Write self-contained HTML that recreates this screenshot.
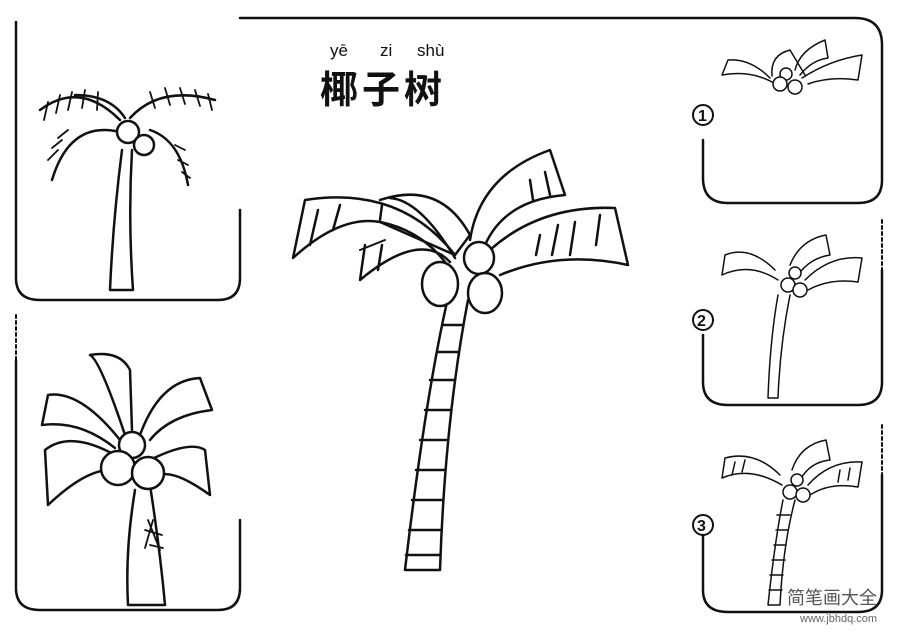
<!DOCTYPE html>
<html><head><meta charset="utf-8"><style>
body{margin:0;background:#fff;width:900px;height:635px;overflow:hidden}
svg{display:block}
text{font-family:"Liberation Sans","Noto Sans CJK SC",sans-serif}
</style></head><body>
<svg width="900" height="635" viewBox="0 0 900 635" fill="none" stroke="#111" stroke-width="2.5" stroke-linejoin="round" stroke-linecap="round">
<!-- frames -->
<path d="M16 22 V278 Q16 300 40 300 H218 Q240 300 240 278 V210"/>
<path d="M240 18 H855 Q882 18 882 45 V180 Q882 203 858 203 H728 Q703 203 703 178 V140"/>
<path d="M882 220 V270" stroke-dasharray="3 3" stroke-width="2"/>
<path d="M882 270 V382 Q882 405 858 405 H728 Q703 405 703 382 V335"/>
<path d="M882 425 V475" stroke-dasharray="3 3" stroke-width="2"/>
<path d="M882 475 V590 Q882 612 858 612 H728 Q703 612 703 590 V535"/>
<path d="M16 315 V360" stroke-dasharray="3 3" stroke-width="2"/>
<path d="M16 360 V588 Q16 610 40 610 H218 Q240 610 240 588 V520"/>
<!-- title -->
<text x="330" y="56" font-size="17" fill="#111" stroke="none">yē</text>
<text x="380" y="56" font-size="17" fill="#111" stroke="none">zi</text>
<text x="417" y="56" font-size="17" fill="#111" stroke="none">shù</text>
<text x="320" y="103" font-size="38" font-weight="bold" fill="#111" stroke="none" letter-spacing="4">椰子树</text>
<!-- step labels -->
<g stroke-width="2"><circle cx="703" cy="115" r="10"/><circle cx="703" cy="320" r="10"/><circle cx="703" cy="525" r="10"/></g>
<text x="698" y="121" font-size="16" font-weight="bold" fill="#111" stroke="none">1</text>
<text x="697" y="326" font-size="16" font-weight="bold" fill="#111" stroke="none">2</text>
<text x="697" y="531" font-size="16" font-weight="bold" fill="#111" stroke="none">3</text>
<!-- main tree -->
<g id="main">
<path d="M447 302 Q425 400 405 570 H440 Q445 420 468 300"/>
<g stroke-width="2.5"><path d="M443 325 H462"/><path d="M437 352 H458"/><path d="M430 380 H454"/><path d="M425 410 H450"/><path d="M420 440 H447"/><path d="M416 470 H444"/><path d="M412 500 H442"/><path d="M409 530 H441"/><path d="M406 555 H440"/></g>
<!-- fronds -->
<path d="M455 255 Q400 185 305 200 L293 258 Q340 215 380 222 Z"/>
<path d="M380 222 Q420 230 445 262"/>
<path d="M455 258 Q420 200 390 198"/>
<path d="M380 200 Q440 180 470 235 L455 255"/>
<path d="M365 245 L360 280 Q420 230 450 262"/>
<path d="M470 240 Q480 175 550 150 L565 195 Q505 200 485 245"/>
<path d="M490 250 Q540 205 615 208 L628 265 Q560 250 500 275"/>
<path d="M360 250 L385 240" stroke-width="2"/>
<g stroke-width="2.5"><path d="M318 210 L310 245"/><path d="M340 205 L333 230"/><path d="M382 205 L380 220"/><path d="M382 245 L378 270"/><path d="M530 180 L533 200"/><path d="M545 172 L550 195"/><path d="M540 235 L536 255"/><path d="M558 225 L552 255"/><path d="M575 222 L570 255"/><path d="M600 215 L596 245"/></g>
<ellipse cx="440" cy="284" rx="18" ry="22" fill="#fff"/>
<ellipse cx="479" cy="258" rx="15" ry="16" fill="#fff"/>
<ellipse cx="485" cy="293" rx="17" ry="20" fill="#fff"/>
</g>
<!-- top-left tree -->
<path d="M122 150 Q113 220 110 290 H133 Q128 220 132 150"/>
<path d="M120 120 Q80 80 40 110"/><path d="M125 118 Q110 95 75 95"/>
<path d="M130 118 Q160 85 215 100"/><path d="M120 132 Q70 120 52 180"/><path d="M150 130 Q180 140 188 185"/>
<path d="M48 102 L44 120 M60 95 L56 113 M72 92 L68 110 M85 90 L82 108 M98 92 L97 110 M150 92 L155 108 M165 88 L170 105 M180 88 L185 104 M195 90 L200 106 M208 94 L212 110 M58 150 L48 160 M62 140 L52 148 M68 130 L58 138 M175 145 L185 150 M178 160 L188 165 M182 172 L190 178" stroke-width="1.8"/>
<circle cx="128" cy="132" r="11" fill="#fff"/><circle cx="144" cy="145" r="10" fill="#fff"/><circle cx="120" cy="147" r="0" />
<!-- bottom-left tree -->
<path d="M135 490 Q125 550 128 605 H165 Q160 550 150 485"/>
<path d="M148 520 L160 550 M153 520 L145 548 M145 530 L162 535 M150 545 L163 548" stroke-width="1.8"/>
<path d="M120 440 Q80 390 48 395 L42 425 Q80 420 115 448"/>
<path d="M125 435 Q100 360 90 355 Q120 350 130 370 L132 430"/>
<path d="M140 435 Q160 380 200 378 L212 410 Q170 415 150 440"/>
<path d="M115 455 Q70 430 45 450 L48 505 Q85 470 110 470"/>
<path d="M150 460 Q190 440 205 450 L210 495 Q175 470 160 475"/>
<circle cx="132" cy="445" r="13" fill="#fff"/><circle cx="118" cy="468" r="17" fill="#fff"/><circle cx="148" cy="473" r="16" fill="#fff"/>
<!-- step 1 -->
<g stroke-width="1.5">
<path d="M770 78 Q750 58 728 60 L722 75 Q750 70 772 82"/><path d="M772 76 Q770 55 790 50 L805 75"/>
<path d="M795 70 Q800 50 825 40 L828 58 Q812 60 800 75"/><path d="M802 78 Q830 60 862 55 L858 80 Q830 76 808 84"/>
<circle cx="786" cy="74" r="6" fill="#fff"/><circle cx="780" cy="84" r="7" fill="#fff"/><circle cx="795" cy="87" r="7" fill="#fff"/>
</g>
<!-- step 2 -->
<g stroke-width="1.5">
<path d="M778 295 Q770 340 768 398 H778 Q780 345 790 295"/>
<path d="M775 270 Q750 245 725 255 L722 275 Q750 262 778 280"/><path d="M790 265 Q800 240 826 235 L830 255 Q810 258 798 275"/>
<path d="M805 280 Q830 255 862 258 L858 282 Q830 278 808 290"/>
<circle cx="795" cy="273" r="6" fill="#fff"/><circle cx="788" cy="285" r="7" fill="#fff"/><circle cx="800" cy="290" r="7" fill="#fff"/>
</g>
<!-- step 3 -->
<g stroke-width="1.5">
<path d="M783 500 Q775 540 768 605 H780 Q783 545 795 500"/>
<path d="M777 515 H790 M776 530 H788 M774 545 H786 M772 560 H785 M770 575 H783 M769 590 H782" />
<path d="M780 475 Q755 450 725 458 L722 478 Q750 466 782 485"/><path d="M792 470 Q800 445 826 440 L830 460 Q810 462 800 480"/>
<path d="M808 485 Q830 460 862 462 L858 487 Q830 482 810 495"/>
<path d="M735 462 L732 475 M745 460 L742 472 M840 470 L838 482 M850 468 L848 480" />
<circle cx="797" cy="480" r="6" fill="#fff"/><circle cx="790" cy="492" r="7" fill="#fff"/><circle cx="803" cy="495" r="7" fill="#fff"/>
</g>
<!-- watermark -->
<text x="787" y="604" font-size="18" fill="#555" stroke="none">简笔画大全</text>
<text x="800" y="622" font-size="11" fill="#666" stroke="none">www.jbhdq.com</text>
</svg>
</body></html>
